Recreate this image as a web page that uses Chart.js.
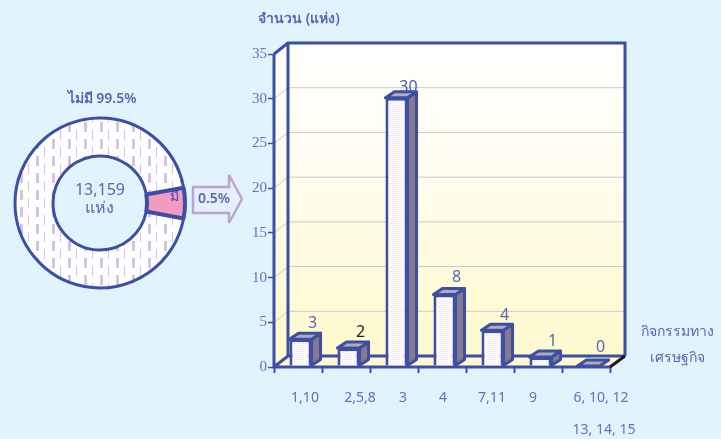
<!DOCTYPE html>
<html>
<head>
<meta charset="utf-8">
<script src="https://cdn.jsdelivr.net/npm/chart.js@4"></script>
<style>
  html, body { margin: 0; padding: 0; background: #e1f3fd; overflow: hidden; }
  #wrap { position: relative; width: 721px; height: 439px; font-family: Tahoma, "Noto Sans", sans-serif; color: #5468b4; }
  canvas { position: absolute; }
  #barChart { left: 0; top: 0; }
  #ringChart { left: 0; top: 103px; }
  .note { position: absolute; white-space: nowrap; transform: translate(-50%, -50%); font-size: 14px; }
  svg { position: absolute; left: 185px; top: 165px; }
</style>
</head>
<body>
<div id="wrap">
  <canvas id="barChart" width="721" height="439" style="width:721px;height:439px"></canvas>
  <canvas id="ringChart" width="200" height="200" style="width:200px;height:200px"></canvas>
  <svg width="70" height="70">
    <polygon points="8,22 44,22 44,10 57,34 44,58 44,48 8,48" fill="#e4f1fc" stroke="#bda4d0" stroke-width="2.5"/>
  </svg>
  <div class="note" style="left:102px;top:98px;font-weight:600">ไม่มี 99.5%</div>
  <div class="note" style="left:100px;top:189px;font-size:16px">13,159</div>
  <div class="note" style="left:99px;top:207px;font-size:16px">แห่ง</div>
  <div class="note" style="left:174px;top:196px;color:#3a4ea3">มี</div>
  <div class="note" style="left:214px;top:197px;font-weight:600">0.5%</div>
  <div class="note" style="left:299px;top:18px;font-weight:600">จำนวน (แห่ง)</div>
  <div class="note" style="left:677px;top:331px">กิจกรรมทาง</div>
  <div class="note" style="left:677px;top:357px">เศรษฐกิจ</div>
</div>
<script>
// ข้อมูลกราฟแท่ง
const categories = ['1,10', '2,5,8', '3', '4', '7,11', '9', '6, 10, 12'];
const extraLabel = '13, 14, 15';
const counts = [3, 2, 30, 8, 4, 1, 0];
const labelLift = [17, 17, 11, 18, 16, 17, 20];
const labelShift = [7, 14, 9, 1, 2, -5, 15];
const labelColors = ['#5468b4', '#222222', '#4a5db0', '#5468b4', '#5468b4', '#5468b4', '#5468b4'];

// ข้อมูลวงแหวน: สัดส่วนตามที่วาดในภาพ (ชิ้น "มี" วาดใหญ่กว่า 0.5% จริง)
const ringNames = ['ไม่มี', 'มี'];
const ringShares = [94.2, 5.8];

const BLUE = '#3b4fa5';
const DX = 9, DY = -6;          // ความลึกของแท่ง
const WALL_X = 14, WALL_Y = -11; // ความลึกของผนัง

function tile(w, h, paint) {
  const c = document.createElement('canvas');
  c.width = w; c.height = h;
  paint(c.getContext('2d'));
  return c.getContext('2d').createPattern(c, 'repeat');
}

const barFill = tile(4, 4, g => {
  g.fillStyle = '#ffffff'; g.fillRect(0, 0, 4, 4);
  g.fillStyle = '#f3c8e4'; g.fillRect(0, 0, 1, 1); g.fillRect(2, 2, 1, 1);
  g.fillStyle = '#f9e3f1'; g.fillRect(2, 0, 1, 1); g.fillRect(0, 2, 1, 1);
});
const ringFill = tile(16, 34, g => {
  g.fillStyle = '#ffffff'; g.fillRect(0, 0, 16, 34);
  g.fillStyle = '#d6c3e2';
  g.fillRect(4, 2, 3, 10); g.fillRect(4, 19, 3, 10);
  g.fillRect(12, 10, 1, 10); g.fillRect(12, 27, 1, 7); g.fillRect(12, 0, 1, 3);
});

function poly(ctx, pts, fill, stroke, width) {
  ctx.beginPath();
  pts.forEach((p, i) => i ? ctx.lineTo(p[0], p[1]) : ctx.moveTo(p[0], p[1]));
  ctx.closePath();
  if (fill) { ctx.fillStyle = fill; ctx.fill(); }
  if (stroke) { ctx.strokeStyle = stroke; ctx.lineWidth = width; ctx.stroke(); }
}

// วาดผนังสามมิติและเส้นกริด
const walls = {
  id: 'walls',
  beforeDatasetsDraw(chart) {
    const { ctx, chartArea: a, scales } = chart;
    const bx = a.left + WALL_X, by = a.bottom + WALL_Y, tx = a.top + WALL_Y, rx = a.right + WALL_X + 1;
    const grad = ctx.createLinearGradient(0, tx, 0, by);
    grad.addColorStop(0, '#ffffff');
    grad.addColorStop(0.35, '#fffdf2');
    grad.addColorStop(1, '#fff9cd');
    ctx.save();
    poly(ctx, [[a.left, a.top], [bx, tx], [bx, by], [a.left, a.bottom]], grad);
    poly(ctx, [[bx, tx], [rx, tx], [rx, by], [bx, by]], grad);
    poly(ctx, [[a.left, a.bottom], [bx, by], [rx, by], [a.right, a.bottom]], '#fff9cd');

    scales.y.ticks.forEach(t => {
      if (t.value === 0 || t.value === 35) return;
      const y = scales.y.getPixelForValue(t.value);
      ctx.beginPath();
      ctx.moveTo(a.left, y); ctx.lineTo(bx, y + WALL_Y); ctx.lineTo(rx, y + WALL_Y);
      ctx.strokeStyle = '#c6c9cf'; ctx.lineWidth = 1; ctx.stroke();
    });

    ctx.lineWidth = 3; ctx.strokeStyle = BLUE; ctx.lineJoin = 'miter';
    ctx.beginPath();
    ctx.moveTo(a.left, a.top); ctx.lineTo(bx, tx); ctx.lineTo(rx, tx); ctx.lineTo(rx, by);
    ctx.moveTo(bx, tx); ctx.lineTo(bx, by); ctx.lineTo(rx, by);
    ctx.moveTo(a.left, a.bottom); ctx.lineTo(bx, by);
    ctx.moveTo(a.left, a.top); ctx.lineTo(a.left, a.bottom); ctx.lineTo(a.right, a.bottom);
    ctx.stroke();
    ctx.beginPath();
    ctx.moveTo(a.right, a.bottom); ctx.lineTo(rx, by);
    ctx.strokeStyle = '#1c1c1c'; ctx.stroke();

    // ด้านข้างและด้านบนของแท่ง เลื่อนแท่งไปทางขวาเล็กน้อยเหมือนต้นฉบับ
    ctx.restore();
    ctx.save();
    ctx.translate(2.5, -1);
    chart.getDatasetMeta(0).data.forEach(bar => {
      const l = bar.x - bar.width / 2, r = bar.x + bar.width / 2, top = bar.y, base = bar.base;
      ctx.lineJoin = 'round';
      poly(ctx, [[r, top], [r + DX, top + DY], [r + DX, base + DY], [r, base]], '#84798f', BLUE, 3);
      poly(ctx, [[l, top], [l + DX, top + DY], [r + DX, top + DY], [r, top]], '#b3abb9', BLUE, 3);
    });
  },
  afterDatasetsDraw(chart) {
    const { ctx, scales } = chart;
    ctx.restore();
    ctx.save();
    // ป้ายค่าบนแท่ง
    ctx.textAlign = 'center';
    ctx.textBaseline = 'middle';
    ctx.font = '16px Tahoma, "Noto Sans", sans-serif';
    chart.getDatasetMeta(0).data.forEach((bar, i) => {
      ctx.fillStyle = labelColors[i];
      ctx.fillText(counts[i], bar.x + 14.5, bar.y - labelLift[i]);
    });
    // ป้ายแกน x วางเองตามต้นฉบับ
    ctx.font = '14px Tahoma, "Noto Sans", sans-serif';
    ctx.fillStyle = '#5e72bd';
    categories.forEach((c, i) => {
      ctx.fillText(c, scales.x.getPixelForTick(i) + labelShift[i], scales.x.top + 31);
    });
    ctx.fillText(extraLabel, scales.x.getPixelForTick(6) + 18, scales.x.top + 63);
    ctx.restore();
  }
};

new Chart(document.getElementById('barChart'), {
  type: 'bar',
  data: {
    labels: categories,
    datasets: [{
      data: counts,
      backgroundColor: barFill,
      borderColor: BLUE,
      borderWidth: 3,
      barPercentage: 0.46,
      categoryPercentage: 1
    }]
  },
  options: {
    responsive: false,
    animation: false,
    layout: { padding: { left: 0, right: 111, top: 54, bottom: 0 } },
    plugins: { legend: { display: false }, tooltip: { enabled: false } },
    scales: {
      x: {
        afterFit: s => { s.height = 72; },
        grid: { offset: true, drawOnChartArea: false, drawTicks: true, tickLength: 6, tickWidth: 2, tickColor: BLUE, color: BLUE },
        border: { display: false },
        ticks: { display: false }
      },
      y: {
        min: 0,
        max: 35,
        afterFit: s => { s.width = 274; },
        grid: { drawOnChartArea: false, tickLength: 6, tickWidth: 1.5, tickColor: BLUE },
        border: { display: false },
        ticks: {
          stepSize: 5,
          color: '#5e72bd',
          padding: 1,
          font: { family: '"Liberation Serif", serif', size: 15 }
        }
      }
    }
  },
  plugins: [walls]
});

new Chart(document.getElementById('ringChart'), {
  type: 'doughnut',
  data: {
    labels: ringNames,
    datasets: [{
      data: ringShares,
      backgroundColor: [ringFill, '#f59ac2'],
      borderColor: BLUE,
      borderWidth: [3, 4]
    }]
  },
  options: {
    responsive: false,
    animation: false,
    radius: 85,
    cutout: '55.3%',
    rotation: 100.5,
    plugins: { legend: { display: false }, tooltip: { enabled: false } }
  }
});
</script>
</body>
</html>
